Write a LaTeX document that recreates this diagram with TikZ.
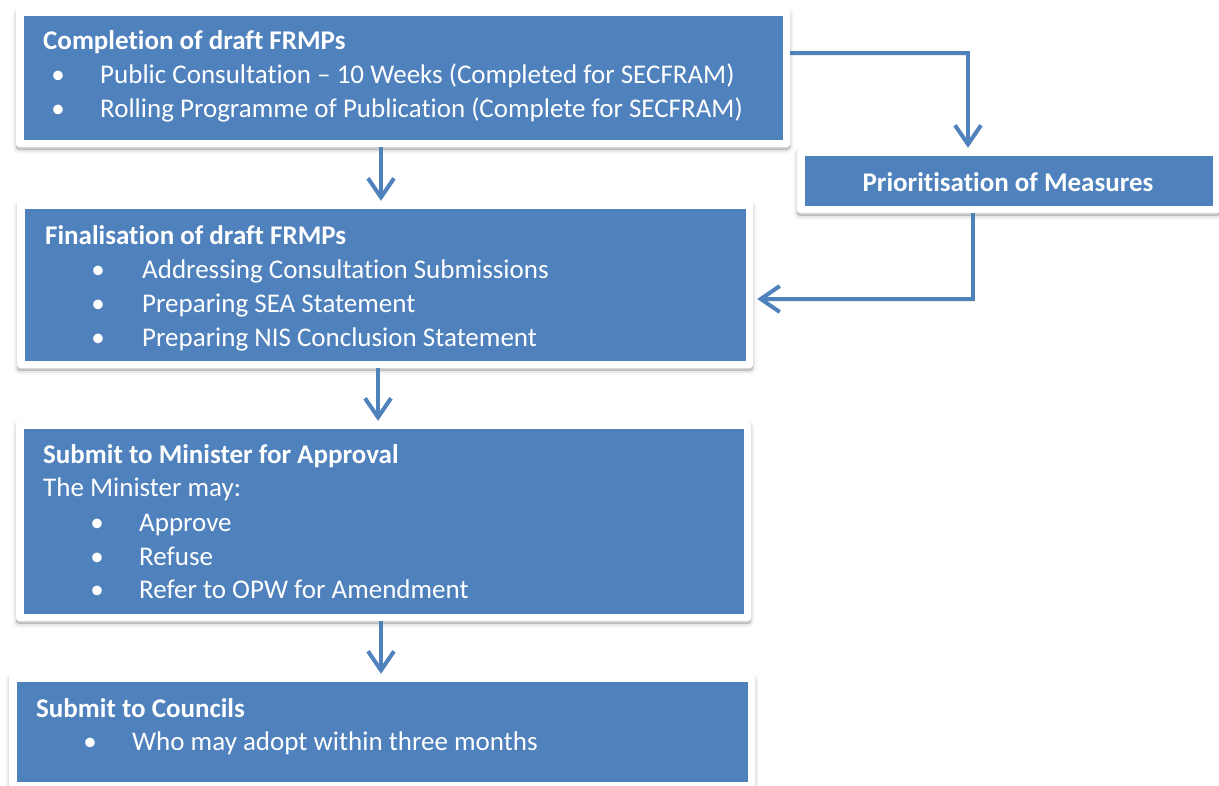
\documentclass[tikz,border=0pt]{standalone}
\usepackage{fontspec}
\setmainfont{Carlito}[Ligatures=NoCommon]
\usetikzlibrary{arrows.meta}
\definecolor{boxblue}{HTML}{4F81BD}
\begin{document}
\begin{tikzpicture}[x=1pt,y=-1pt,
  frame/.style={draw=none, fill=white, inner sep=0, minimum width=#1, rounded corners=3pt,
    preaction={draw=black, fill=black, line width=7pt, opacity=0.035, transform canvas={yshift=-3pt}},
    preaction={draw=black, fill=black, line width=3.5pt, opacity=0.05, transform canvas={yshift=-3pt}},
    preaction={draw=black, fill=black, line width=0.8pt, opacity=0.08, transform canvas={yshift=-2.5pt}},
    path picture={\fill[boxblue, sharp corners] ([shift={(7.5pt,-7.5pt)}]path picture bounding box.north west)
        rectangle ([shift={(-7.5pt,7.5pt)}]path picture bounding box.south east);}},
  ttl/.style={anchor=base west, inner sep=0, text=white, font=\fontsize{27}{33}\selectfont\bfseries},
  itm/.style={anchor=base west, inner sep=0, text=white, font=\fontsize{27}{33}\selectfont},
  bul/.style={anchor=base, inner sep=0, text=white, font=\fontsize{27}{33}\selectfont},
  arr/.style={draw=boxblue, line width=4pt,
    preaction={draw=black, opacity=0.08, transform canvas={xshift=1pt, yshift=-2pt}},
    -{Straight Barb[length=19pt, width=26pt, line width=4pt]}}
]
\useasboundingbox (0,0) rectangle (1219,785);
% boxes
\node[frame=774pt, minimum height=139pt] (b1) at (403,77.5) {};
\node[frame=423pt, minimum height=65pt] (b2) at (1008.5,180.5) {};
\node[frame=736pt, minimum height=167pt] (b3) at (385,284.5) {};
\node[frame=735pt, minimum height=200pt] (b4) at (383.5,521) {};
\node[frame=746pt, minimum height=115pt] (b5) at (382,731.5) {};
% box 1 text
\node[ttl] (t1) at (43,49) {Completion of draft FRMPs};
\node[bul] (u11) at (58,83) {•};
\node[itm] (i11) at (100,83) {Public Consultation – 10 Weeks (Completed for SECFRAM)};
\node[bul] (u12) at (58,117) {•};
\node[itm] (i12) at (100,117) {Rolling Programme of Publication (Complete for SECFRAM)};
% box 2 text
\node[anchor=base, inner sep=0, text=white, font=\fontsize{27}{33}\selectfont\bfseries] (t2) at (1008,191) {Prioritisation of Measures};
% box 3 text
\node[ttl] (t3) at (45,244) {Finalisation of draft FRMPs};
\node[bul] (u31) at (98,278) {•};
\node[itm] (i31) at (142,278) {Addressing Consultation Submissions};
\node[bul] (u32) at (98,312) {•};
\node[itm] (i32) at (142,312) {Preparing SEA Statement};
\node[bul] (u33) at (98,346) {•};
\node[itm] (i33) at (142,346) {Preparing NIS Conclusion Statement};
% box 4 text
\node[ttl] (t4) at (43,463) {Submit to Minister for Approval};
\node[itm] (s4) at (43,496) {The Minister may:};
\node[bul] (u41) at (97,531) {•};
\node[itm] (i41) at (139,531) {Approve};
\node[bul] (u42) at (97,565) {•};
\node[itm] (i42) at (139,565) {Refuse};
\node[bul] (u43) at (97,598) {•};
\node[itm] (i43) at (139,598) {Refer to OPW for Amendment};
% box 5 text
\node[ttl] (t5) at (36,717) {Submit to Councils};
\node[bul] (u51) at (90,750) {•};
\node[itm] (i51) at (132,750) {Who may adopt within three months};
% connectors
\coordinate (x1) at (381,0);
\coordinate (x2) at (378,0);
\coordinate (k1) at (968,53);
\coordinate (k2) at (973,299);
\draw[arr] (b1.south -| x1) -- (b3.north -| x1);
\draw[arr] (b3.south -| x2) -- (b4.north -| x2);
\draw[arr] (b4.south -| x1) -- (b5.north -| x1);
\draw[arr] (b1.east |- k1) -| (b2.north -| k1);
\draw[arr] (b2.south -| k2) |- ([xshift=4pt]b3.east |- k2);
\end{tikzpicture}
\end{document}
